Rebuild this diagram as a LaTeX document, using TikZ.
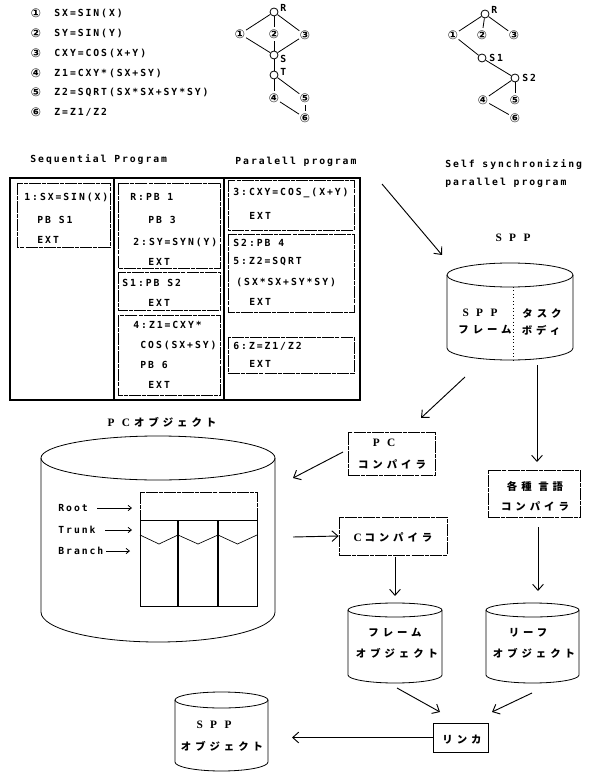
\documentclass[tikz,border=0pt]{standalone}
\usepackage{fontspec}
\usetikzlibrary{arrows.meta}
\newfontfamily\dmfont[LetterSpace=20]{DejaVu Sans Mono}
\newfontfamily\jpfont[LetterSpace=38]{Noto Sans CJK JP}
\newfontfamily\srfont[LetterSpace=65]{Liberation Serif}
\newfontfamily\symfont{DejaVu Sans}
\newcommand\dmf{\dmfont\bfseries\fontsize{7.3}{8}\selectfont}
\newcommand\jpf{\jpfont\bfseries\fontsize{7.8}{9}\selectfont}
\newcommand\srf{\srfont\bfseries\fontsize{8.5}{9}\selectfont}
\newcommand\nmf{\symfont\bfseries\fontsize{9}{10}\selectfont}
\newcommand\cylndr[6]{%
  \draw[cyl] (#1,-#3) ellipse [x radius=#2*0.75pt, y radius=#5*0.75pt];
  \draw[cyl] (#1-#2,-#3) -- (#1-#2,-#4) arc [start angle=180, end angle=360, x radius=#2*0.75pt, y radius=#6*0.75pt] -- (#1+#2,-#3);}
\tikzset{
  dm/.style={font=\dmf, inner sep=0pt, anchor=west},
  jp/.style={font=\jpf, inner sep=0pt},
  pbox/.style={draw, line width=0.6pt, dash pattern=on 9pt off 0.8pt on 3pt off 0.8pt},
  cbox/.style={draw, line width=0.6pt, dash pattern=on 9pt off 0.8pt on 3pt off 0.8pt},
  cyl/.style={line width=0.6pt},
  arr/.style={-{Straight Barb[length=4.5pt,width=8pt]}, line width=0.7pt},
  sarr/.style={-{Straight Barb[length=2.5pt,width=4pt]}, line width=0.6pt},
  tc/.style={circle, draw, line width=0.6pt, minimum size=6pt, inner sep=0pt},
  num/.style={font=\nmf, circle, inner sep=0pt},
  lbl/.style={font=\dmf, inner sep=0pt, anchor=west},
  edge/.style={line width=0.6pt}
}
\begin{document}
\begin{tikzpicture}[x=0.75pt, y=0.75pt, line width=0.6pt]
\useasboundingbox (0,0) rectangle (591,-773);
\fill[white] (0,0) rectangle (591,-773);

% ---- statement list ----
\node[num] (ln1) at (36,-13) {①};
\node[dm] (lt1) at (54,-13) {SX=SIN(X)};
\node[num] (ln2) at (36,-33) {②};
\node[dm] (lt2) at (54,-33) {SY=SIN(Y)};
\node[num] (ln3) at (36,-53) {③};
\node[dm] (lt3) at (54,-53) {CXY=COS(X+Y)};
\node[num] (ln4) at (36,-73) {④};
\node[dm] (lt4) at (54,-73) {Z1=CXY*(SX+SY)};
\node[num] (ln5) at (36,-92) {⑤};
\node[dm] (lt5) at (54,-92) {Z2=SQRT(SX*SX+SY*SY)};
\node[num] (ln6) at (36,-112) {⑥};
\node[dm] (lt6) at (54,-112) {Z=Z1/Z2};

% ---- tree 1 ----
\node[tc] (aR) at (274,-12) {};
\node[lbl] (aRl) at (280,-8) {R};
\node[num] (a1) at (240,-34) {①};
\node[num] (a2) at (274,-34) {②};
\node[num] (a3) at (305,-35) {③};
\node[tc] (aS) at (274,-55) {};
\node[lbl] (aSl) at (280,-59) {S};
\node[tc] (aT) at (274,-75) {};
\node[lbl] (aTl) at (280,-72) {T};
\node[num] (a4) at (274,-98) {④};
\node[num] (a5) at (305,-98) {⑤};
\node[num] (a6) at (305,-118) {⑥};
\draw[edge] (aR) -- (a1); \draw[edge] (aR) -- (a2); \draw[edge] (aR) -- (a3);
\draw[edge] (a1) -- (aS); \draw[edge] (a2) -- (aS); \draw[edge] (a3) -- (aS);
\draw[edge] (aS) -- (aT); \draw[edge] (aT) -- (a4); \draw[edge] (aT) -- (a5);
\draw[edge] (a5) -- (a6); \draw[edge] (a4) -- (a6);

% ---- tree 2 ----
\node[tc] (bR) at (485,-14) {};
\node[lbl] (bRl) at (491,-10) {R};
\node[num] (b1) at (453,-35) {①};
\node[num] (b2) at (482,-35) {②};
\node[num] (b3) at (514,-35) {③};
\node[tc] (bS1) at (482,-58) {};
\node[lbl] (bS1l) at (489,-58) {S1};
\node[tc] (bS2) at (515,-78) {};
\node[lbl] (bS2l) at (522,-78) {S2};
\node[num] (b4) at (483,-100) {④};
\node[num] (b5) at (515,-100) {⑤};
\node[num] (b6) at (515,-118) {⑥};
\draw[edge] (bR) -- (b1); \draw[edge] (bR) -- (b2); \draw[edge] (bR) -- (b3);
\draw[edge] (b1) -- (bS1); \draw[edge] (bS1) -- (bS2);
\draw[edge] (bS2) -- (b4); \draw[edge] (bS2) -- (b5); \draw[edge] (b4) -- (b6);

% ---- headings ----
\node[dm] (h1) at (30,-160) {Sequential Program};
\node[dm] (h2) at (235,-162) {Paralell program};
\node[dm] (h3) at (445,-165) {Self synchronizing};
\node[dm] (h4) at (445,-183) {parallel program};

% ---- program table ----
\draw[line width=0.8pt] (10,-178) rectangle (360,-400);
\draw[line width=1.4pt] (114,-178) -- (114,-400);
\draw[line width=1.4pt] (224,-178) -- (224,-400);

\draw[pbox] (17,-183) rectangle (110,-247);
\node[dm] (p1a) at (24,-197) {1:SX=SIN(X)};
\node[dm] (p1b) at (37,-220) {PB S1};
\node[dm] (p1c) at (37,-240) {EXT};

\draw[pbox] (118,-183) rectangle (220,-268);
\node[dm] (p2a) at (130,-197) {R:PB 1};
\node[dm] (p2b) at (148,-220) {PB 3};
\node[dm] (p2c) at (133,-242) {2:SY=SYN(Y)};
\node[dm] (p2d) at (148,-262) {EXT};

\draw[pbox] (118,-272) rectangle (220,-310);
\node[dm] (p3a) at (122,-283) {S1:PB S2};
\node[dm] (p3b) at (148,-303) {EXT};

\draw[pbox] (118,-315) rectangle (220,-395);
\node[dm] (p4a) at (133,-325) {4:Z1=CXY*};
\node[dm] (p4b) at (140,-345) {COS(SX+SY)};
\node[dm] (p4c) at (140,-365) {PB 6};
\node[dm] (p4d) at (148,-385) {EXT};

\draw[pbox] (228,-180) rectangle (354,-230);
\node[dm] (p5a) at (233,-193) {3:CXY=COS\_(X+Y)};
\node[dm] (p5b) at (249,-216) {EXT};

\draw[pbox] (228,-234) rectangle (354,-312);
\node[dm] (p6a) at (233,-243) {S2:PB 4};
\node[dm] (p6b) at (233,-262) {5:Z2=SQRT};
\node[dm] (p6c) at (236,-282) {(SX*SX+SY*SY)};
\node[dm] (p6d) at (249,-302) {EXT};

\draw[pbox] (228,-337) rectangle (354,-373);
\node[dm] (p7a) at (233,-346) {6:Z=Z1/Z2};
\node[dm] (p7b) at (249,-364) {EXT};

\coordinate (progout) at (382,-184);

% ---- SPP cylinder ----
\node[inner sep=0pt] (sppl) at (513,-238) {\srf SPP};
\cylndr{510}{63}{275}{348}{12}{12}
\draw[dotted, line width=0.6pt] (513,-287) -- (513,-360);
\node[inner sep=0pt] (sppa) at (480,-313) {\srf SPP};
\node[jp] (sppb) at (542,-313) {タスク};
\node[jp] (sppc) at (485,-330) {フレーム};
\node[jp] (sppd) at (541,-330) {ボディ};
\coordinate (sppin) at (442,-255);
\coordinate (sppoutL) at (465,-377);
\coordinate (sppoutR) at (537,-365);
\draw[arr] (progout) -- (sppin);

% ---- PC object cylinder ----
\node[inner sep=0pt] (pcl) at (162,-422) {\srf PC\hspace{3pt}{\jpf オブジェクト}};
\cylndr{158}{117}{458}{612}{22}{30}
\draw[pbox] (140,-492) rectangle (257,-520);
\draw[line width=0.6pt] (140,-520) rectangle (257,-606);
\draw[line width=1.3pt] (178,-520) -- (178,-606);
\draw[line width=1.3pt] (218,-520) -- (218,-606);
\draw[line width=0.5pt] (140,-535) -- (159,-544) -- (178,-535);
\draw[line width=0.5pt] (178,-535) -- (198,-544) -- (218,-535);
\draw[line width=0.5pt] (218,-535) -- (237.5,-544) -- (257,-535);
\node[dm] (root) at (58,-508) {Root};
\node[dm] (trunk) at (58,-530) {Trunk};
\node[dm] (branch) at (58,-551) {Branch};
\coordinate (rootS) at (97,-508);
\coordinate (rootT) at (132,-508);
\coordinate (trunkS) at (105,-530);
\coordinate (trunkT) at (132,-530);
\coordinate (branchS) at (106,-551);
\coordinate (branchT) at (130,-551);
\draw[sarr] (rootS) -- (rootT);
\draw[sarr] (trunkS) -- (trunkT);
\draw[sarr] (branchS) -- (branchT);
\coordinate (pcin) at (293,-478);
\coordinate (pcout) at (293,-537);

% ---- compilers ----
\node[cbox, minimum width=87*0.75pt, minimum height=43*0.75pt, inner sep=0pt] (pcc) at (391.5,-453.5) {};
\node[inner sep=0pt] (pcct) at (384,-443) {\srf PC};
\node[jp] (pccu) at (392,-464) {コンパイラ};

\node[cbox, minimum width=92*0.75pt, minimum height=47*0.75pt, inner sep=0pt] (kc) at (534,-493.5) {};
\node[jp] (kct) at (535,-486) {各種\hspace{5pt}言語};
\node[jp] (kcu) at (535,-506) {コンパイラ};

\node[cbox, minimum width=108*0.75pt, minimum height=38*0.75pt, inner sep=0pt] (cc) at (393,-536) {};
\node[inner sep=0pt] (cct) at (393,-537) {\srf C\hspace{2pt}{\jpf コンパイラ}};

\coordinate (pccin) at (421,-418);
\coordinate (kcin) at (537,-462);
\coordinate (pccout) at (343,-452);
\coordinate (ccout) at (395,-557);
\coordinate (foin) at (395,-596);
\coordinate (kcout) at (538,-527);
\coordinate (loin) at (538,-591);
\draw[arr] (sppoutL) -- (pccin);
\draw[arr] (sppoutR) -- (kcin);
\draw[arr] (pccout) -- (pcin);
\draw[arr] (pcout) -- (cc.west);
\draw[arr] (ccout) -- (foin);
\draw[arr] (kcout) -- (loin);

% ---- object cylinders ----
\cylndr{395}{47}{610}{675}{7}{8}
\node[jp] (fo1) at (395,-633) {フレーム};
\node[jp] (fo2) at (397,-653) {オブジェクト};
\cylndr{532.5}{46.5}{610}{675}{7}{8}
\node[jp] (lo1) at (528,-633) {リーフ};
\node[jp] (lo2) at (534,-653) {オブジェクト};
\coordinate (foout) at (397,-688);
\coordinate (loout) at (532,-693);
\coordinate (lkinL) at (440,-712);
\coordinate (lkinR) at (492,-712);

\node[draw, line width=0.7pt, minimum width=55*0.75pt, minimum height=29*0.75pt, inner sep=0pt] (lk) at (460.5,-737.5) {};
\node[jp] (lkt) at (462,-740) {リンカ};
\draw[arr] (foout) -- (lkinL);
\draw[arr] (loout) -- (lkinR);

\cylndr{221.5}{46.5}{700}{762}{8}{9}
\node[inner sep=0pt] (so1) at (214,-725) {\srf SPP};
\node[jp] (so2) at (222,-746) {オブジェクト};
\coordinate (soin) at (292,-737.5);
\draw[arr] (lk.west) -- (soin);
\end{tikzpicture}
\end{document}
